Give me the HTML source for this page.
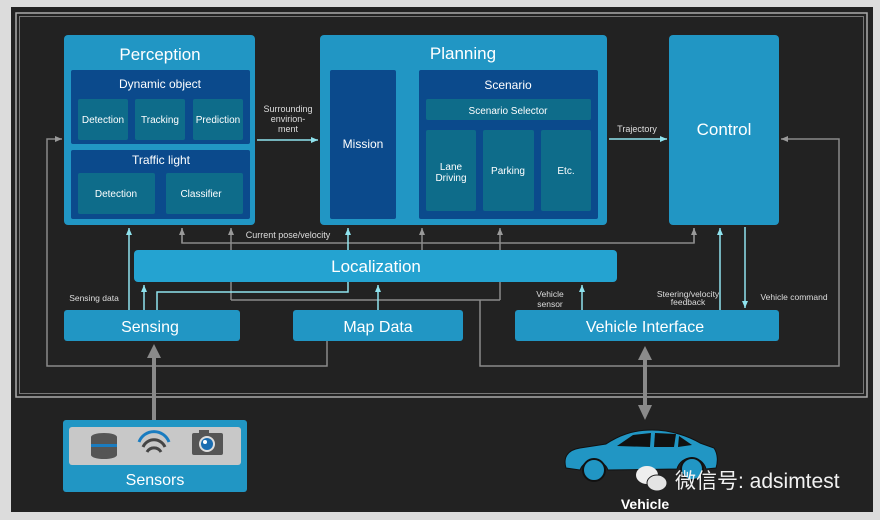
<!DOCTYPE html>
<html><head><meta charset="utf-8"><style>
html,body{margin:0;padding:0;background:#dcdcdc;}
svg{display:block;font-family:"Liberation Sans","Noto Sans CJK SC",sans-serif;}
</style></head><body>
<svg width="880" height="520" viewBox="0 0 880 520" xmlns="http://www.w3.org/2000/svg">
<defs>
<marker id="ac" markerWidth="8" markerHeight="8" refX="7" refY="4" orient="auto" markerUnits="userSpaceOnUse"><path d="M0,1 L7,4 L0,7 z" fill="#8fe3ee"/></marker>
<marker id="ag" markerWidth="8" markerHeight="8" refX="7" refY="4" orient="auto" markerUnits="userSpaceOnUse"><path d="M0,1 L7,4 L0,7 z" fill="#9a9a9a"/></marker>
</defs>
<rect x="11" y="7" width="862" height="505" fill="#222"/>
<rect x="16" y="13" width="851" height="384" fill="none" stroke="#aaa" stroke-width="1.5"/>
<rect x="19.5" y="16.5" width="844" height="377" fill="none" stroke="#777" stroke-width="1"/>

<g fill="none" stroke="#8a8a8a" stroke-width="1.5">
<polyline points="327,341 327,366 47,366 47,139 62,139" marker-end="url(#ag)"/>
<polyline points="480,300 480,366 839,366 839,139 781,139" marker-end="url(#ag)"/>
<polyline points="182,228 182,243 694,243 694,228" />
<line x1="182" y1="243" x2="182" y2="228" marker-end="url(#ag)"/>
<line x1="694" y1="243" x2="694" y2="228" marker-end="url(#ag)"/>
<line x1="422" y1="250" x2="422" y2="228" marker-end="url(#ag)"/>
<polyline points="231,300 500,300"/>
<line x1="231" y1="300" x2="231" y2="228" marker-end="url(#ag)"/>
<line x1="500" y1="300" x2="500" y2="228" marker-end="url(#ag)"/>
</g>
<g fill="none" stroke="#8fe3ee" stroke-width="1.5">
<line x1="257" y1="140" x2="318" y2="140" marker-end="url(#ac)"/>
<line x1="398" y1="141" x2="417" y2="141" marker-end="url(#ac)"/>
<line x1="609" y1="139" x2="667" y2="139" marker-end="url(#ac)"/>
<line x1="129" y1="310" x2="129" y2="228" marker-end="url(#ac)"/>
<line x1="144" y1="310" x2="144" y2="285" marker-end="url(#ac)"/>
<polyline points="157,310 157,292 348,292 348,228" marker-end="url(#ac)"/>
<line x1="378" y1="310" x2="378" y2="285" marker-end="url(#ac)"/>
<line x1="582" y1="310" x2="582" y2="285" marker-end="url(#ac)"/>
<line x1="720" y1="310" x2="720" y2="228" marker-end="url(#ac)"/>
<line x1="745" y1="227" x2="745" y2="308" marker-end="url(#ac)"/>
</g>
<g stroke="#8a8a8a" stroke-width="4" fill="none">
<line x1="154" y1="420" x2="154" y2="356"/>
<line x1="645" y1="358" x2="645" y2="406"/>
</g>
<g fill="#8a8a8a">
<path d="M154,344 L161,358 L147,358 Z"/>
<path d="M645,346 L652,360 L638,360 Z"/>
<path d="M645,420 L652,405 L638,405 Z"/>
</g>

<rect x="64" y="35" width="191" height="190" rx="4" fill="#2196c4"/>
<text x="160" y="60" font-size="17" fill="#fff" text-anchor="middle">Perception</text>
<rect x="71" y="70" width="179" height="74" rx="2" fill="#0b4a8c"/>
<text x="160" y="88" font-size="12" fill="#fff" text-anchor="middle">Dynamic object</text>
<g fill="#0e6c8a"><rect x="78" y="99" width="50" height="41" rx="2"/><rect x="135" y="99" width="50" height="41" rx="2"/><rect x="193" y="99" width="50" height="41" rx="2"/></g>
<g font-size="10" fill="#fff" text-anchor="middle"><text x="103" y="123">Detection</text><text x="160" y="123">Tracking</text><text x="218" y="123">Prediction</text></g>
<rect x="71" y="150" width="179" height="69" rx="2" fill="#0b4a8c"/>
<text x="161" y="164" font-size="12" fill="#fff" text-anchor="middle">Traffic light</text>
<g fill="#0e6c8a"><rect x="78" y="173" width="77" height="41" rx="2"/><rect x="166" y="173" width="77" height="41" rx="2"/></g>
<g font-size="10" fill="#fff" text-anchor="middle"><text x="116" y="197">Detection</text><text x="201" y="197">Classifier</text></g>
<g font-size="9" fill="#ddd" text-anchor="middle"><text x="288" y="112">Surrounding</text><text x="288" y="122">envirion-</text><text x="288" y="132">ment</text></g>

<rect x="320" y="35" width="287" height="190" rx="4" fill="#2196c4"/>
<text x="463" y="59" font-size="17" fill="#fff" text-anchor="middle">Planning</text>
<rect x="330" y="70" width="66" height="149" rx="2" fill="#0b4a8c"/>
<text x="363" y="148" font-size="12" fill="#fff" text-anchor="middle">Mission</text>
<rect x="419" y="70" width="179" height="149" rx="2" fill="#0b4a8c"/>
<text x="508" y="89" font-size="12" fill="#fff" text-anchor="middle">Scenario</text>
<rect x="426" y="99" width="165" height="21" rx="2" fill="#0e6c8a"/>
<text x="508" y="114" font-size="10" fill="#fff" text-anchor="middle">Scenario Selector</text>
<g fill="#0e6c8a"><rect x="426" y="130" width="50" height="81" rx="2"/><rect x="483" y="130" width="51" height="81" rx="2"/><rect x="541" y="130" width="50" height="81" rx="2"/></g>
<g font-size="10" fill="#fff" text-anchor="middle"><text x="451" y="170">Lane</text><text x="451" y="181">Driving</text><text x="508" y="174">Parking</text><text x="566" y="174">Etc.</text></g>
<text x="637" y="132" font-size="9" fill="#ddd" text-anchor="middle">Trajectory</text>

<rect x="669" y="35" width="110" height="190" rx="4" fill="#2196c4"/>
<text x="724" y="135" font-size="17" fill="#fff" text-anchor="middle">Control</text>

<text x="288" y="238" font-size="9" fill="#ddd" text-anchor="middle">Current pose/velocity</text>

<rect x="134" y="250" width="483" height="32" rx="4" fill="#24a3d1"/>
<text x="376" y="272" font-size="17" fill="#fff" text-anchor="middle">Localization</text>

<g font-size="8.5" fill="#ddd" text-anchor="middle">
<text x="94" y="301">Sensing data</text>
<text x="550" y="297">Vehicle</text><text x="550" y="307">sensor</text>
<text x="688" y="297">Steering/velocity</text><text x="688" y="305">feedback</text>
<text x="794" y="300">Vehicle command</text>
</g>

<rect x="64" y="310" width="176" height="31" rx="3" fill="#2196c4"/>
<text x="150" y="332" font-size="16" fill="#fff" text-anchor="middle">Sensing</text>
<rect x="293" y="310" width="170" height="31" rx="3" fill="#2196c4"/>
<text x="378" y="332" font-size="16" fill="#fff" text-anchor="middle">Map Data</text>
<rect x="515" y="310" width="264" height="31" rx="3" fill="#2196c4"/>
<text x="645" y="332" font-size="16" fill="#fff" text-anchor="middle">Vehicle Interface</text>

<rect x="63" y="420" width="184" height="72" rx="3" fill="#2196c4"/>
<rect x="69" y="427" width="172" height="38" rx="3" fill="#c8c8c8"/>
<g>
<ellipse cx="104" cy="437" rx="13" ry="4" fill="#555"/>
<rect x="91" y="437" width="26" height="18" fill="#555"/>
<rect x="91" y="444" width="26" height="3" fill="#1a7cc0"/>
<ellipse cx="104" cy="455" rx="13" ry="4" fill="#555"/>
<path d="M139,442 a16,16 0 0 1 30,0" stroke="#1a7cc0" stroke-width="3" fill="none"/>
<path d="M143,447 a12,12 0 0 1 22,0" stroke="#444" stroke-width="3" fill="none"/>
<path d="M147,452 a8,8 0 0 1 14,0" stroke="#444" stroke-width="3" fill="none"/>
<rect x="192" y="433" width="31" height="22" rx="2" fill="#555"/>
<rect x="199" y="430" width="10" height="4" fill="#555"/>
<circle cx="207" cy="444" r="8" fill="#ddd"/><circle cx="207" cy="444" r="6" fill="#1a6cb0"/><circle cx="205" cy="442" r="2" fill="#fff"/>
</g>
<text x="155" y="485" font-size="16" fill="#fff" text-anchor="middle">Sensors</text>

<path d="M566,468 C563,458 567,450 580,448 L606,444 C618,436 632,430 652,430 C672,430 690,437 700,443 L714,448 C718,454 718,462 716,468 L706,469 A15,15 0 0 0 677,469 L608,470 A15,15 0 0 0 580,470 Z" fill="#2196c4" stroke="#111" stroke-width="1"/>
<circle cx="594" cy="470" r="11" fill="#2196c4" stroke="#111" stroke-width="2"/>
<circle cx="692" cy="469" r="11" fill="#2196c4" stroke="#111" stroke-width="2"/>
<path d="M617,446 L633,435 L651,433 L650,447 Z" fill="#111"/>
<path d="M655,433 L676,434 L674,447 L654,447 Z" fill="#111"/>
<path d="M679,436 L692,445 L678,447 Z" fill="#111"/>
<text x="645" y="509" font-size="14" font-weight="bold" fill="#fff" text-anchor="middle">Vehicle</text>

<ellipse cx="647" cy="475" rx="11" ry="9" fill="#eee"/>
<ellipse cx="657" cy="483" rx="10" ry="8" fill="#e4e4e4" stroke="#222" stroke-width="1"/>
<text x="675" y="488" font-size="21" fill="#f2f2f2">微信号: adsimtest</text>
</svg>
</body></html>
